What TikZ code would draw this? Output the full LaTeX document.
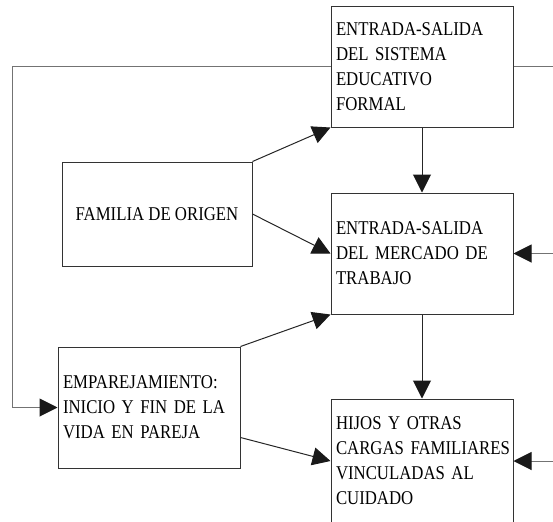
\documentclass[tikz,border=0pt]{standalone}
\usepackage{fontspec}
\setmainfont[FakeStretch=0.86]{Liberation Serif}
\usetikzlibrary{arrows.meta}

\begin{document}
\begin{tikzpicture}[x=0.5pt,y=-0.5pt,
    box/.style={draw=black!80,line width=0.5pt,minimum height=60.5pt,text width=86pt,
      inner xsep=2.5pt,align=left,font=\fontsize{9.75pt}{12.5pt}\selectfont,
      execute at begin node={\hyphenpenalty=10000\relax}},
    arr/.style={->,line width=0.5pt,draw=black!85,>={Triangle[length=9pt,width=9pt,color=black!90]}},
    back/.style={line width=0.5pt,draw=black!55}]
    \useasboundingbox (0,0) rectangle (553,521);
    \clip (0,0) rectangle (553,521);

    \node[box] (edu) at (422,66.5) {ENTRADA-SALIDA\\DEL SISTEMA\\EDUCATIVO\\FORMAL};
    \node[box] (merc) at (422,253.5) {ENTRADA-SALIDA\\DEL MERCADO DE\\TRABAJO};
    \node[box,minimum height=62pt] (hijos) at (422,461) {HIJOS Y OTRAS\\CARGAS~FAMILIARES\\VINCULADAS AL\\CUIDADO};
    \node[box] (emp) at (149,407.5) {EMPAREJAMIENTO:\\INICIO~Y~FIN~DE~LA\\VIDA EN PAREJA};
    \node[draw=black!80,line width=0.5pt,minimum width=95pt,minimum height=52pt,
      font=\fontsize{9.75pt}{12.5pt}\selectfont] (fam) at (157,214) {FAMILIA DE ORIGEN};

    \coordinate (lft) at (12.7,0);
    \coordinate (rgt) at (560,0);

    % flechas entre cajas
    \draw[arr] (edu) -- (merc);
    \draw[arr] (merc) -- (hijos);
    \draw[arr] (fam.north east) -- (edu.south west);
    \draw[arr] (fam.east) -- (merc.west);
    \draw[arr] (emp.north east) -- (merc.south west);
    \draw[arr] ([yshift=-15pt]emp.east) -- (hijos.west);

    % lineas de retorno
    \draw[back,->,>={Triangle[length=9pt,width=9pt,color=black!90]}]
      (edu.west) -- (edu.west -| lft) -- (emp.west -| lft) -- (emp.west);
    \draw[back] (edu.east) -- (edu.east -| rgt);
    \foreach \n in {merc,hijos}
    \draw[back,->,>={Triangle[length=9pt,width=9pt,color=black!90]}] (\n.east -| rgt) -- (\n.east);
\end{tikzpicture}
\end{document}
